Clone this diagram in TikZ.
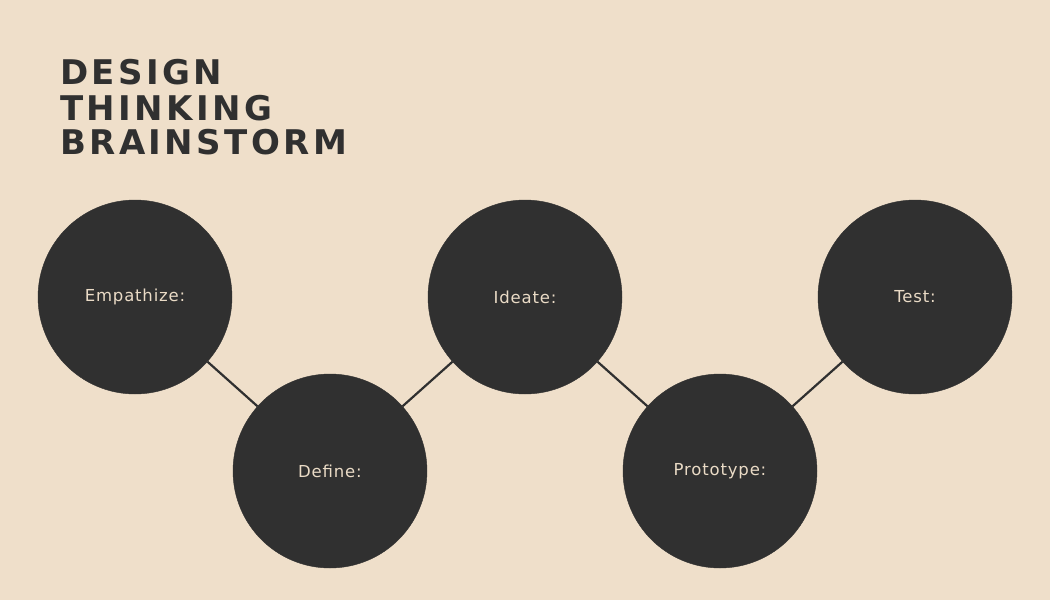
\documentclass[tikz,border=0pt]{standalone}
\usepackage{fontspec}
\setmainfont{DejaVu Sans}
\newfontfamily\titlefont[LetterSpace=10]{DejaVu Sans}
\newfontfamily\labelfont[LetterSpace=5]{DejaVu Sans}
\definecolor{paper}{HTML}{EFDFCA}
\definecolor{ink}{HTML}{303030}
\definecolor{cream}{HTML}{EADBC6}
\begin{document}
\begin{tikzpicture}[x=1pt,y=-1pt,
  title/.style={anchor=base west,inner sep=0pt,text=ink,font=\titlefont\bfseries\fontsize{34}{34}\selectfont},
  stage/.style={circle,fill=ink,draw=ink,minimum size=194pt,inner sep=0pt,text=cream,font=\labelfont\fontsize{16.5}{16.5}\selectfont},
  link/.style={draw=ink,line width=2.2pt}]
  \fill[paper] (0,0) rectangle (1050,600);
  \useasboundingbox (0,0) rectangle (1050,600);

  % heading
  \node[title] (t1) at (60,84) {DESIGN};
  \node[title] (t2) at (60,120) {THINKING};
  \node[title] (t3) at (60,154) {BRAINSTORM};

  % the five stages
  \node[stage] (emp) at (135,297) {Empathize:};
  \node[stage] (def) at (330,471) {Define:};
  \node[stage] (ide) at (525,297) {Ideate:};
  \node[stage] (pro) at (720,471) {Prototype:};
  \node[stage] (tst) at (915,297) {Test:};

  % connectors
  \draw[link] (emp) -- (def);
  \draw[link] (def) -- (ide);
  \draw[link] (ide) -- (pro);
  \draw[link] (pro) -- (tst);
\end{tikzpicture}
\end{document}
